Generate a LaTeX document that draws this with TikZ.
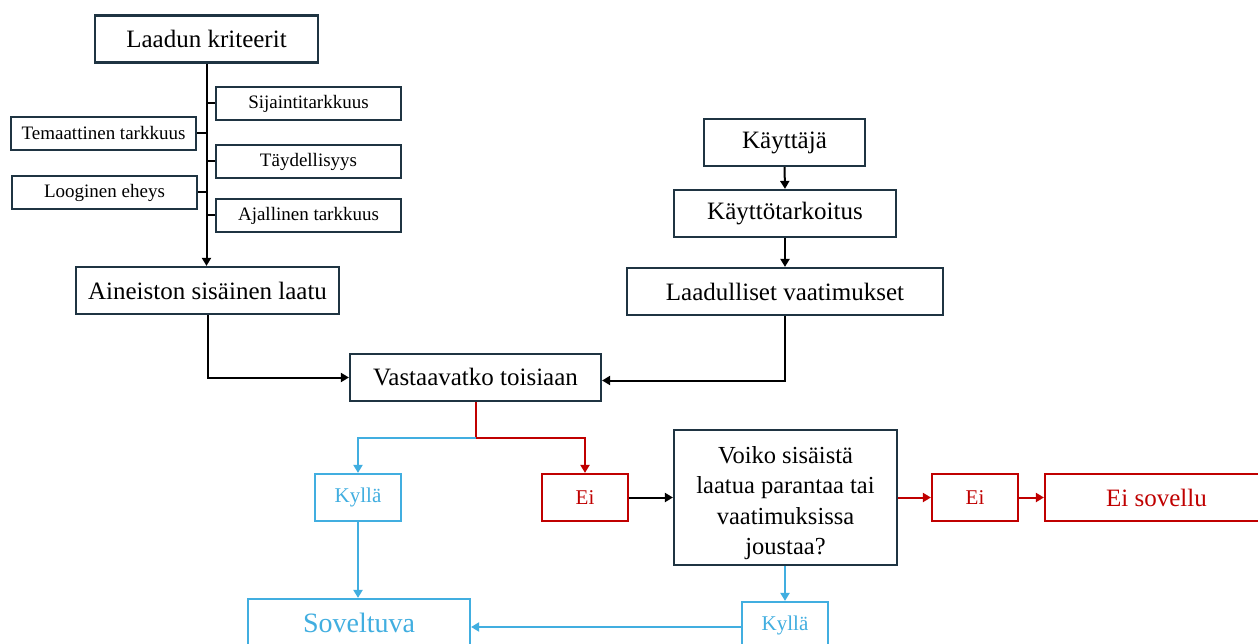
\documentclass[tikz,border=0pt]{standalone}
\usepackage{fontspec}
\setmainfont{Liberation Serif}
\usetikzlibrary{arrows.meta}
\definecolor{dk}{HTML}{1F3442}
\definecolor{bl}{HTML}{41AEE0}
\definecolor{rd}{HTML}{C00000}
\begin{document}
\begin{tikzpicture}[x=1pt,y=-1pt,
  box/.style={draw=dk, line width=2.2pt, inner sep=0pt, text=black, align=center},
  big/.style={box, font=\fontsize{25}{30}\selectfont, minimum height=47pt},
  small/.style={box, font=\fontsize{19}{22}\selectfont, minimum width=185pt, minimum height=33pt},
  bbox/.style={draw=bl, line width=2.2pt, inner sep=0pt, text=bl, minimum height=47pt},
  rbox/.style={draw=rd, line width=2.2pt, inner sep=0pt, text=rd, minimum height=47pt},
  conn/.style={line width=2pt, -{Triangle[length=8pt,width=9pt]}},
  stub/.style={line width=2pt}
]
\useasboundingbox (0,0) rectangle (1258,644);
\fill[white] (0,0) rectangle (1258,644);
\clip (0,0) rectangle (1258,644);

% left column
\node[big, minimum width=223pt] (kri) at (206.5,39) {Laadun kriteerit};
\node[small] (sij) at (308.5,103.5) {Sijaintitarkkuus};
\node[small] (tem) at (103.5,133.5) {Temaattinen tarkkuus};
\node[small] (tay) at (308.5,161.5) {Täydellisyys};
\node[small] (log) at (104.5,192.5) {Looginen eheys};
\node[small] (aja) at (308.5,215.5) {Ajallinen tarkkuus};
\node[big, minimum width=263pt] (ain) at (207.5,290.5) {Aineiston sisäinen laatu};

% right column
\node[big, minimum width=161pt] (kay) at (784.5,142.5) {Käyttäjä};
\node[big, minimum width=222pt] (kt) at (785,213.5) {Käyttötarkoitus};
\node[big, minimum width=316pt] (lv) at (785,291.5) {Laadulliset vaatimukset};

% middle
\node[big, minimum width=251pt] (vas) at (475.5,377.5) {Vastaavatko toisiaan};
\node[bbox, minimum width=86pt, font=\fontsize{21}{25}\selectfont] (ky1) at (358,497.5) {Kyllä};
\node[rbox, minimum width=86pt, font=\fontsize{21}{25}\selectfont] (ei1) at (585,497.5) {Ei};
\node[box, minimum width=223pt, minimum height=135pt] (voi) at (785.5,497.5) {};
\node[align=center, inner sep=0pt, font=\fontsize{24.5}{30.5}\selectfont] (voitxt) at (785.5,503)
  {Voiko sisäistä\\laatua parantaa tai\\vaatimuksissa\\joustaa?};
\node[rbox, minimum width=86pt, font=\fontsize{21}{25}\selectfont] (ei2) at (975,497.5) {Ei};
\node[rbox, minimum width=223pt, font=\fontsize{25}{30}\selectfont] (eis) at (1156.5,497.5) {Ei sovellu};
\node[bbox, minimum width=86pt, font=\fontsize{21}{25}\selectfont] (ky2) at (785,625.5) {Kyllä};
\node[bbox, minimum width=222pt, font=\fontsize{28}{32}\selectfont] (sov) at (359,622.5) {Soveltuva};

% spine and stubs
\draw[conn] (kri.south) -- (kri.south |- ain.north);
\draw[stub] (sij.west) -- (sij.west -| kri.south);
\draw[stub] (tem.east) -- (tem.east -| kri.south);
\draw[stub] (tay.west) -- (tay.west -| kri.south);
\draw[stub] (log.east) -- (log.east -| kri.south);
\draw[stub] (aja.west) -- (aja.west -| kri.south);

% right chain
\draw[conn] (kay.south) -- (kt.north);
\draw[conn] (kt.south) -- (lv.north);

% to Vastaavatko
\draw[conn] (ain.south) |- (vas.west);
\draw[conn] (lv.south) |- ([yshift=-3pt]vas.east);

% split
\draw[stub, rd] (vas.south) -- ++(0,36) coordinate (sp);
\draw[conn, bl] (sp) -| (ky1.north);
\draw[conn, rd] (sp) -| (ei1.north);

\draw[conn] (ei1.east) -- (voi.west);
\draw[conn, rd] (voi.east |- ei2.west) -- (ei2.west);
\draw[conn, rd] (ei2.east) -- (eis.west);
\draw[conn, bl] (ky1.south) -- (ky1.south |- sov.north);
\draw[conn, bl] (voi.south -| ky2.north) -- (ky2.north);
\draw[conn, bl] ([yshift=-1.5pt]ky2.west) -- ([yshift=-1.5pt]ky2.west -| sov.east);
\end{tikzpicture}
\end{document}
